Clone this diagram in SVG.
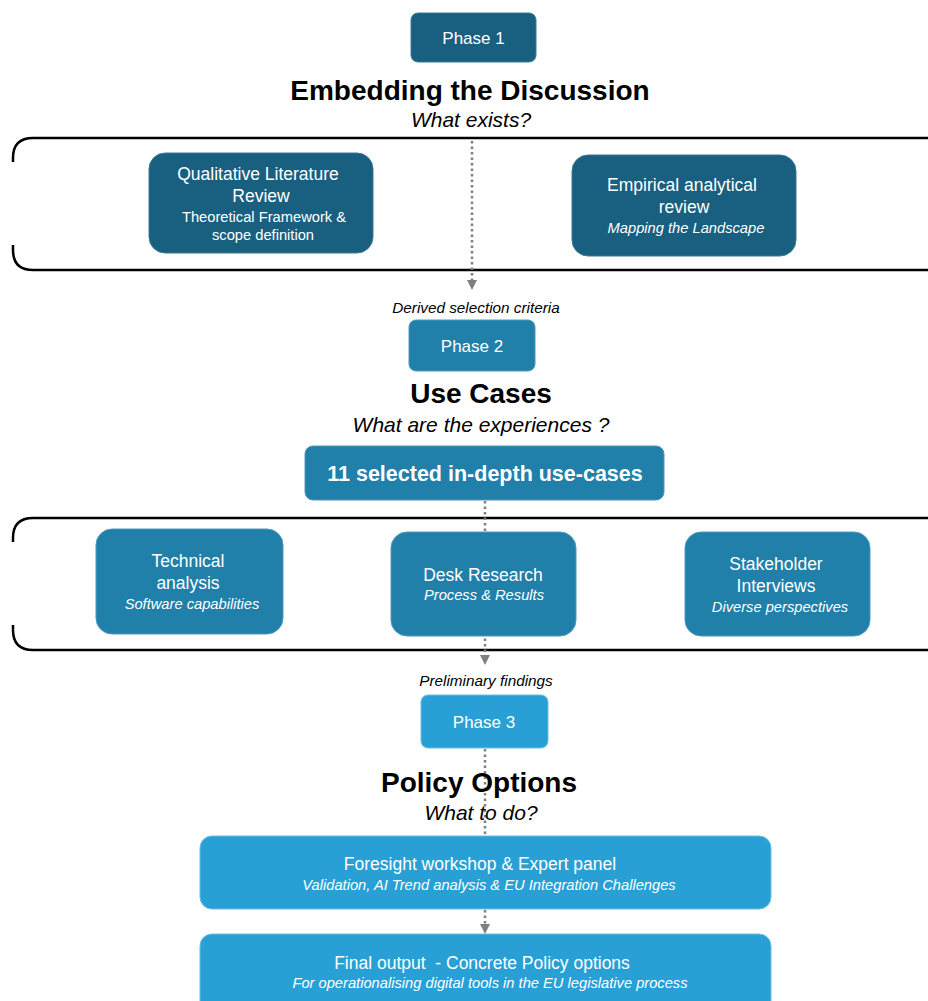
<svg xmlns="http://www.w3.org/2000/svg" width="928" height="1001" viewBox="0 0 928 1001">
<style>
.dark{fill:#195f80;stroke:#3d7a96;stroke-width:1}
.mid{fill:#2080aa;stroke:#4f99bb;stroke-width:1}
.light{fill:#28a0d5;stroke:#6cbde2;stroke-width:1}
.t{font-family:"Liberation Sans",Arial,sans-serif;fill:#fff;text-anchor:middle}
.m{font-size:17.5px}
.s{font-size:14.7px}
.i{font-style:italic}
.h{font-family:"Liberation Sans",Arial,sans-serif;font-weight:bold;font-size:28px;fill:#000;text-anchor:middle}
.q{font-family:"Liberation Sans",Arial,sans-serif;font-style:italic;font-size:21px;fill:#000;text-anchor:middle}
.lab{font-family:"Liberation Sans",Arial,sans-serif;font-style:italic;font-size:15.3px;fill:#000;text-anchor:middle}
.br{fill:none;stroke:#000;stroke-width:2.5}
.dl{fill:none;stroke:#808080;stroke-width:2.5;stroke-dasharray:2.5 3}
</style>
<rect width="928" height="1001" fill="#fff"/>
<g id="containers">
<path class="br" d="M13,162 L13,158 Q13,138 33,138 L940,138 M940,270 L33,270 Q13,270 13,250 L13,245"/>
<path class="br" d="M13,542 L13,538 Q13,518 33,518 L940,518 M940,650 L33,650 Q13,650 13,630 L13,625"/>
</g>
<g id="connectors">
<path class="dl" d="M472,141 L472,280"/>
<path class="dl" d="M485,501 L485,655"/>
<path class="dl" d="M485,749 L485,835"/>
<path class="dl" d="M485,910 L485,924"/>
<g fill="#808080">
<path d="M467,280 L477,280 L472,290 Z"/>
<path d="M480,655 L490,655 L485,665 Z"/>
<path d="M480,924 L490,924 L485,934 Z"/>
</g>
</g>
<g id="phase1">
<rect class="dark" x="411" y="13" width="125" height="49" rx="7"/>
<text class="t" x="473.5" y="44" style="font-size:17px">Phase 1</text>
</g>
<g id="title1">
<text class="h" x="470" y="100">Embedding the Discussion</text>
<text class="q" x="471" y="127">What exists?</text>
</g>
<g id="qlr">
<rect class="dark" x="149" y="153" width="224" height="100" rx="16"/>
<text class="t m" x="258" y="180">Qualitative Literature</text>
<text class="t m" x="261" y="202">Review</text>
<text class="t s" x="264" y="222">Theoretical Framework &amp;</text>
<text class="t s" x="263" y="240">scope definition</text>
</g>
<g id="ear">
<rect class="dark" x="572" y="155" width="224" height="101" rx="16"/>
<text class="t m" x="682" y="191">Empirical analytical</text>
<text class="t m" x="684" y="213">review</text>
<text class="t s i" x="686" y="233">Mapping the Landscape</text>
</g>
<g id="lab1">
<text class="lab" x="476" y="313">Derived selection criteria</text>
</g>
<g id="phase2">
<rect class="mid" x="409" y="320" width="126" height="51" rx="7"/>
<text class="t" x="472" y="352" style="font-size:17px">Phase 2</text>
</g>
<g id="title2">
<text class="h" x="481" y="403">Use Cases</text>
<text class="q" x="481" y="432">What are the experiences ?</text>
</g>
<g id="usecases">
<rect class="mid" x="305" y="446" width="359" height="54" rx="8"/>
<text class="t" x="485" y="481" style="font-size:21.5px;font-weight:bold">11 selected in-depth use-cases</text>
</g>
<g id="tech">
<rect class="mid" x="96" y="529" width="187" height="105" rx="16"/>
<text class="t m" x="188" y="567">Technical</text>
<text class="t m" x="188" y="589">analysis</text>
<text class="t s i" x="192" y="609">Software capabilities</text>
</g>
<g id="desk">
<rect class="mid" x="391" y="532" width="185" height="104" rx="16"/>
<text class="t m" x="483" y="581">Desk Research</text>
<text class="t s i" x="484" y="600">Process &amp; Results</text>
</g>
<g id="stake">
<rect class="mid" x="685" y="532" width="185" height="104" rx="16"/>
<text class="t m" x="776" y="570">Stakeholder</text>
<text class="t m" x="776" y="592">Interviews</text>
<text class="t s i" x="780" y="612">Diverse perspectives</text>
</g>
<g id="lab2">
<text class="lab" x="486" y="686">Preliminary findings</text>
</g>
<g id="phase3">
<rect class="light" x="421" y="695" width="127" height="53" rx="7"/>
<text class="t" x="484" y="728" style="font-size:17px">Phase 3</text>
</g>
<g id="title3">
<text class="h" x="479" y="792">Policy Options</text>
<text class="q" x="481" y="820">What to do?</text>
</g>
<g id="foresight">
<rect class="light" x="200" y="836" width="571" height="73" rx="12"/>
<text class="t m" x="480" y="870">Foresight workshop &amp; Expert panel</text>
<text class="t s i" x="489" y="890">Validation, AI Trend analysis &amp; EU Integration Challenges</text>
</g>
<g id="final">
<rect class="light" x="200" y="934" width="571" height="80" rx="12"/>
<text class="t m" x="482" y="969" xml:space="preserve">Final output  - Concrete Policy options</text>
<text class="t s i" x="490" y="988">For operationalising digital tools in the EU legislative process</text>
</g>
</svg>
